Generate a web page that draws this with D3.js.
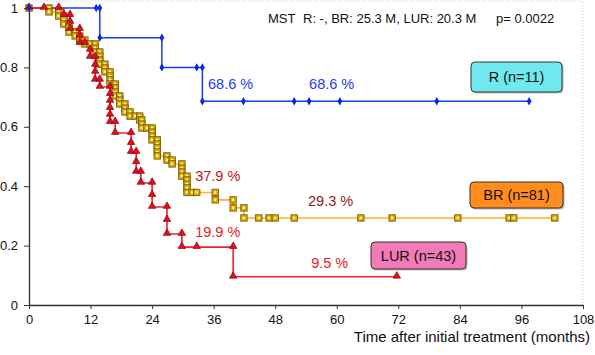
<!DOCTYPE html>
<html><head><meta charset="utf-8">
<script src="https://cdn.jsdelivr.net/npm/d3@7"></script>
<style>
html,body{margin:0;padding:0;background:#fff;}
svg{display:block;font-family:"Liberation Sans",Arial,Helvetica,sans-serif;}
</style></head>
<body>
<svg id="c" width="595" height="355"></svg>
<script>
// ---- data (months, survival) ----
const xTicks = [0,12,24,36,48,60,72,84,96,108];
const yTicks = [0,0.2,0.4,0.6,0.8,1];

const rTime = [0,13.1,13.8,13.8,25.9,25.9,32.7,33.8,33.8,41.8,51.7,54.6,60.6,79.5,97.5];
const rSurv = [1,1,1,0.9,0.9,0.8,0.8,0.8,0.686,0.686,0.686,0.686,0.686,0.686,0.686];

const brTime = [0,3.9,3.9,5.8,5.8,6.8,6.8,6.8,7.8,7.8,7.8,9.0,9.0,9.9,9.9,10.9,10.9,11.9,12.9,12.9,12.9,13.8,13.8,13.8,13.8,14.8,14.8,14.8,15.8,15.8,15.8,15.8,16.8,16.8,16.8,16.8,17.7,17.7,17.7,18.7,18.7,18.7,19.7,19.7,20.7,21.6,21.6,22.0,22.0,22.0,23.0,24.0,24.0,24.0,24.0,25.0,25.0,25.0,25.0,25.0,26.9,26.9,27.9,27.9,29.8,29.8,29.8,29.8,30.8,30.8,30.8,30.8,30.8,31.8,32.7,36.3,36.3,39.8,39.8,41.9,41.9,44.8,46.8,48.0,51.7,64.7,70.8,83.6,93.6,94.5,102.5];
const brSurv = [1,1,0.987,0.987,0.973,0.973,0.960,0.946,0.946,0.933,0.919,0.919,0.906,0.906,0.892,0.892,0.879,0.879,0.879,0.865,0.852,0.852,0.838,0.825,0.811,0.811,0.798,0.785,0.785,0.771,0.758,0.744,0.744,0.731,0.717,0.704,0.704,0.690,0.677,0.677,0.663,0.650,0.650,0.636,0.636,0.636,0.623,0.623,0.609,0.596,0.596,0.596,0.582,0.569,0.556,0.556,0.542,0.529,0.515,0.502,0.502,0.488,0.488,0.475,0.475,0.461,0.448,0.434,0.434,0.421,0.407,0.394,0.379,0.379,0.379,0.379,0.354,0.354,0.327,0.327,0.293,0.293,0.293,0.293,0.293,0.293,0.293,0.293,0.293,0.293,0.293];

const lurTime = [0,2.9,5.8,6.8,8.0,8.0,8.0,9.9,9.9,9.9,10.9,11.9,11.9,12.9,12.9,12.9,12.9,13.8,13.8,15.8,15.8,15.8,15.8,15.8,15.8,16.8,16.8,19.9,19.9,19.9,20.9,20.9,20.9,21.8,21.8,24.0,24.0,24.0,26.9,26.9,26.9,29.8,29.8,32.7,39.8,39.8,71.7];
const lurSurv = [1,1,1,0.976,0.976,0.953,0.929,0.929,0.906,0.882,0.882,0.859,0.835,0.835,0.808,0.785,0.758,0.758,0.734,0.734,0.710,0.687,0.663,0.640,0.616,0.616,0.579,0.579,0.545,0.515,0.515,0.481,0.448,0.448,0.411,0.411,0.370,0.330,0.330,0.286,0.239,0.239,0.195,0.195,0.195,0.095,0.095];

const seriesNames = ["R (n=11)","BR (n=81)","LUR (n=43)"];
const pctLabels = [
  {t:"68.6 %", x:34.9, y:0.727, c:"#1b3cf2"},
  {t:"68.6 %", x:54.6, y:0.727, c:"#1b3cf2"},
  {t:"37.9 %", x:32.4, y:0.418, c:"#c0121e"},
  {t:"29.3 %", x:54.4, y:0.333, c:"#8e1a1a"},
  {t:"19.9 %", x:32.4, y:0.229, c:"#e8202a"},
  {t:"9.5 %",  x:55.0, y:0.125, c:"#e8202a"}
];
const topMST = "MST";
const topText1 = "R: -, BR: 25.3 M, LUR: 20.3 M";
const topText2 = "p= 0.0022";
const xTitle = "Time after initial treatment (months)";

// ---- drawing ----
const svg = d3.select("#c");
const x = d3.scaleLinear().domain([0,108]).range([29,583]);
const y = d3.scaleLinear().domain([0,1]).range([305,8]);

// dotted plot frame
svg.append("rect").attr("x",29).attr("y",1).attr("width",554).attr("height",304)
  .attr("fill","none").attr("stroke","#cfcfcf").attr("stroke-width",1).attr("stroke-dasharray","1,2");

const line = d3.line().x(d=>x(d[0])).y(d=>y(d[1])).curve(d3.curveStepAfter);
const zip = (a,b)=>a.map((v,i)=>[v,b[i]]);
const rData = zip(rTime,rSurv), brData = zip(brTime,brSurv), lurData = zip(lurTime,lurSurv);

// axes
const ya = svg.append("g").attr("transform","translate(29,0)")
  .call(d3.axisLeft(y).tickValues(yTicks).tickSize(5).tickSizeOuter(0).tickPadding(6)
    .tickFormat(d=> d===0?"0":(d===1?"1":d3.format(".1f")(d))));
const xa = svg.append("g").attr("transform","translate(0,305)")
  .call(d3.axisBottom(x).tickValues(xTicks).tickSize(4).tickSizeOuter(0).tickPadding(6));
[ya,xa].forEach(g=>{
  g.select(".domain").attr("stroke","#333").attr("stroke-width",1.3);
  g.selectAll(".tick line").attr("stroke","#333");
  g.selectAll("text").attr("font-size",13).attr("fill","#111")
   .attr("font-family","'Liberation Sans',Arial,sans-serif");
});

// curves
svg.append("path").attr("d",line(brData)).attr("fill","none").attr("stroke","#ffb41e").attr("stroke-width",1.6);
svg.append("path").attr("d",line(rData)).attr("fill","none").attr("stroke","#1b3cf2").attr("stroke-width",1.5);
svg.append("path").attr("d",line(lurData)).attr("fill","none").attr("stroke","#f0222e").attr("stroke-width",1.6);

// markers: BR squares
const bq = svg.append("g").selectAll("g").data(brData).join("g")
  .attr("transform",d=>`translate(${x(d[0])},${y(d[1])})`);
bq.append("rect").attr("x",-3.2).attr("y",-3.2).attr("width",6.4).attr("height",6.4)
  .attr("fill","#dcae06").attr("stroke","#7a5c08").attr("stroke-width",0.9);
bq.append("rect").attr("x",-1.2).attr("y",-1.2).attr("width",2.2).attr("height",2.2).attr("fill","#fff3a0");

// LUR triangles
svg.append("g").selectAll("path").data(lurData).join("path")
  .attr("d",d3.symbol(d3.symbolTriangle,24)())
  .attr("transform",d=>`translate(${x(d[0])},${y(d[1])-0.8})`)
  .attr("fill","#e2101e").attr("stroke","#8a0008").attr("stroke-width",0.7);

// R diamonds
svg.append("g").selectAll("path").data(rData).join("path")
  .attr("d",d3.symbol(d3.symbolDiamond,20)())
  .attr("transform",d=>`translate(${x(d[0])},${y(d[1])})`)
  .attr("fill","#0a28e0");

// percent labels
svg.append("g").selectAll("text").data(pctLabels).join("text")
  .attr("x",d=>x(d.x)).attr("y",d=>y(d.y)).attr("fill",d=>d.c)
  .attr("font-size",14.5).text(d=>d.t);

// legend boxes
const boxes = [
  {name:seriesNames[0], x0:471, y0:62, w:91, h:30, fill:"#6fe9ee"},
  {name:seriesNames[1], x0:470, y0:182, w:93, h:26, fill:"#ff8c1c"},
  {name:seriesNames[2], x0:371, y0:242, w:95, h:27, fill:"#f27ab6"}
];
const bg = svg.append("g").selectAll("g").data(boxes).join("g");
bg.append("rect").attr("x",d=>d.x0+1.5).attr("y",d=>d.y0+1.5).attr("width",d=>d.w).attr("height",d=>d.h)
  .attr("rx",4).attr("fill","#bbb");
bg.append("rect").attr("x",d=>d.x0).attr("y",d=>d.y0).attr("width",d=>d.w).attr("height",d=>d.h)
  .attr("rx",4).attr("fill",d=>d.fill).attr("stroke","#333").attr("stroke-width",1);
bg.append("text").attr("x",d=>d.x0+d.w/2).attr("y",d=>d.y0+d.h/2+5)
  .attr("text-anchor","middle").attr("font-size",14.5).attr("fill","#111").text(d=>d.name);

// top annotation
svg.append("text").attr("x",268).attr("y",23).attr("font-size",13).attr("fill","#111").text(topMST);
svg.append("text").attr("x",303).attr("y",23).attr("font-size",13).attr("fill","#111").text(topText1);
svg.append("text").attr("x",496).attr("y",23).attr("font-size",13).attr("fill","#111").text(topText2);

// x title
svg.append("text").attr("x",590).attr("y",342).attr("text-anchor","end")
  .attr("font-size",15).attr("fill","#111").text(xTitle);
</script>
</body></html>
